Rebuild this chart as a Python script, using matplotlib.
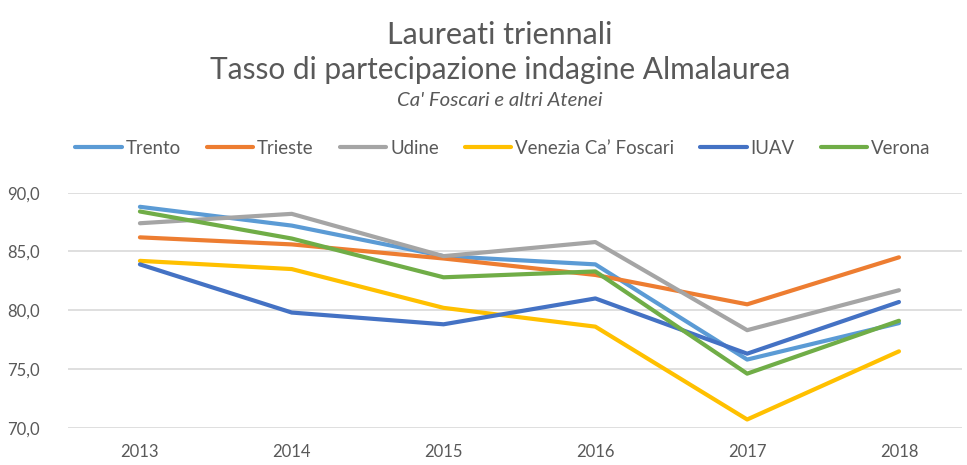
import matplotlib
matplotlib.use("Agg")
import matplotlib.pyplot as plt

# Laureati triennali - tasso di partecipazione indagine Almalaurea
anni = ["2013", "2014", "2015", "2016", "2017", "2018"]

trento = [88.8, 87.2, 84.6, 83.9, 75.8, 78.9]
trieste = [86.2, 85.6, 84.4, 83.0, 80.5, 84.5]
udine = [87.4, 88.2, 84.6, 85.8, 78.3, 81.7]
venezia = [84.2, 83.5, 80.2, 78.6, 70.7, 76.5]
iuav = [83.9, 79.8, 78.8, 81.0, 76.3, 80.7]
verona = [88.4, 86.1, 82.8, 83.3, 74.6, 79.1]

nomi = ["Trento", "Trieste", "Udine", "Venezia Ca\u2019 Foscari", "IUAV", "Verona"]
serie = [trento, trieste, udine, venezia, iuav, verona]
colori = ["#5B9BD5", "#ED7D31", "#A5A5A5", "#FFC000", "#4472C4", "#70AD47"]

plt.rcParams['font.family'] = ['Lato', 'DejaVu Sans']
grigio = "#595959"

fig = plt.figure(figsize=(9.67, 4.65), dpi=100)
ax = fig.add_axes([0.0703, 0.0802, 0.9245, 0.5054])

x = list(range(len(anni)))
for nome, valori, col in zip(nomi, serie, colori):
    ax.plot(x, valori, color=col, lw=3, label=nome,
            solid_joinstyle='round', solid_capstyle='round')

ax.set_ylim(70, 90)
ax.set_xlim(-0.474, 5.415)
ax.set_yticks([70, 75, 80, 85, 90])
ax.set_yticklabels([f"{v:.1f}".replace(".", ",") for v in [70, 75, 80, 85, 90]])
ax.set_xticks(x)
ax.set_xticklabels(anni)
ax.tick_params(axis='both', length=0, labelsize=12, colors=grigio)
ax.tick_params(axis='y', pad=20)
ax.tick_params(axis='x', pad=12)
ax.grid(axis='y', color="#D9D9D9", lw=1.2)
ax.set_axisbelow(True)
for s in ax.spines.values():
    s.set_visible(False)

xc = 500 / 967
fig.text(xc, 1 - 35 / 465, "Laureati triennali", ha='center', va='center',
         fontsize=22, color=grigio)
fig.text(xc, 1 - 70 / 465, "Tasso di partecipazione indagine Almalaurea",
         ha='center', va='center', fontsize=21.5, color=grigio)
fig.text(xc, 1 - 101 / 465, "Ca' Foscari e altri Atenei", ha='center',
         va='center', fontsize=14.7, style='italic', color=grigio)

leg = fig.legend(loc='center', bbox_to_anchor=(503 / 967, 1 - 148 / 465), ncol=6,
                 frameon=False, fontsize=13.4, handlelength=2.5,
                 handletextpad=0.2, columnspacing=1.4)
for t in leg.get_texts():
    t.set_color(grigio)

fig.savefig("out.png", dpi=100)
